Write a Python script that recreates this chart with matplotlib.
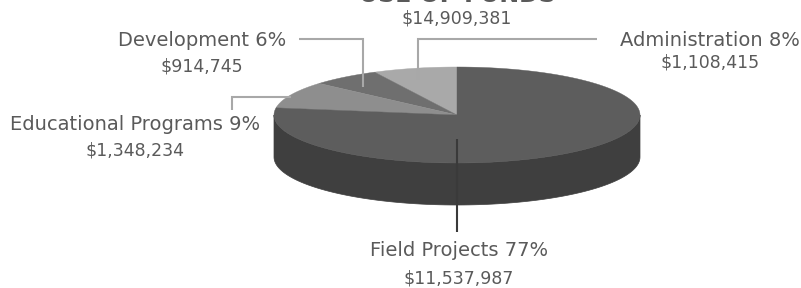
import numpy as np
import matplotlib.pyplot as plt
from matplotlib.patches import Polygon

plt.rcParams['font.family'] = ['DejaVu Sans']

# Data
categories = ['Administration', 'Development', 'Educational Programs', 'Field Projects']
amounts = [1108415, 914745, 1348234, 11537987]
percents = [8, 6, 9, 77]
total_label = '$14,909,381'
title = 'USE OF FUNDS'

top_colors = ['#a9a9a9', '#6f6f6f', '#8e8e8e', '#5d5d5d']
side_color = '#3f3f3f'
text_color = '#5a5a5a'

# pie geometry (pixel space, y down)
cx, cy, a, b, depth = 457, 115, 183, 48, 42


def pt(theta, r=1.0):
    t = np.radians(theta)
    return cx + r * a * np.cos(t), cy - r * b * np.sin(t)


fig = plt.figure(figsize=(8.01, 2.88), dpi=100)
ax = fig.add_axes([0, 0, 1, 1])
ax.set_xlim(0, 801)
ax.set_ylim(288, 0)
ax.axis('off')

fracs = np.array(amounts) / sum(amounts)
starts = 90 + 360 * np.concatenate([[0], np.cumsum(fracs)[:-1]])
ends = starts + 360 * fracs

# side wall, front half only
for s, e in zip(starts, ends):
    for base in (0, 360):
        l, h = max(s - base, 180), min(e - base, 360)
        if h <= l:
            continue
        th = np.linspace(l, h, 120)
        xs, ys = pt(th)
        poly = np.column_stack([np.concatenate([xs, xs[::-1]]),
                                np.concatenate([ys, ys[::-1] + depth])])
        ax.add_patch(Polygon(poly, closed=True, facecolor=side_color,
                             edgecolor=side_color, lw=0.5))

# top face
for s, e, c in zip(starts, ends, top_colors):
    th = np.linspace(s, e, 200)
    xs, ys = pt(th)
    poly = np.column_stack([np.concatenate([[cx], xs]), np.concatenate([[cy], ys])])
    ax.add_patch(Polygon(poly, closed=True, facecolor=c, edgecolor=c, lw=0.3))

# leader lines: start inside wedge, then elbow out to the label
mids = (starts + ends) / 2
leaders = [
    (0.75, 'v', [(418, 39), (597, 39)]),
    (0.75, 'v', [(363, 39), (299, 39)]),
    (1.0, 'h', [(232, 97), (232, 110)]),
    (0.67, 'v', [(457, 232)]),
]
line_colors = ['#a8a8a8', '#a8a8a8', '#a8a8a8', '#3a3a3a']
for (r, mode, elbows), m, lc in zip(leaders, mids, line_colors):
    x0, y0 = pt(m, r)
    if mode == 'v':
        pts = [(elbows[0][0], y0)] + elbows
    else:
        pts = [(x0, elbows[0][1])] + elbows
    ax.plot([p[0] for p in pts], [p[1] for p in pts], color=lc, lw=1.5,
            solid_capstyle='butt', solid_joinstyle='miter')

# labels
label_pos = [(710, 40), (202, 40), (135, 125), (459, 251)]
amount_gap = [23, 26, 25, 28]
for (x, y), gap, name, pct, amt in zip(label_pos, amount_gap, categories,
                                       percents, amounts):
    ax.text(x, y, f'{name} {pct}%', ha='center', va='center',
            fontsize=14, color=text_color)
    ax.text(x, y + gap, f'${amt:,}', ha='center', va='center',
            fontsize=12.5, color=text_color)

# title (cut off at the top edge, as in the source) and total
ax.text(457, 2, title, ha='center', va='baseline', fontsize=17,
        fontweight='bold', color=text_color)
ax.text(457, 18, total_label, ha='center', va='center', fontsize=12.5,
        color=text_color)

fig.savefig('out.png', dpi=100, facecolor='white')
